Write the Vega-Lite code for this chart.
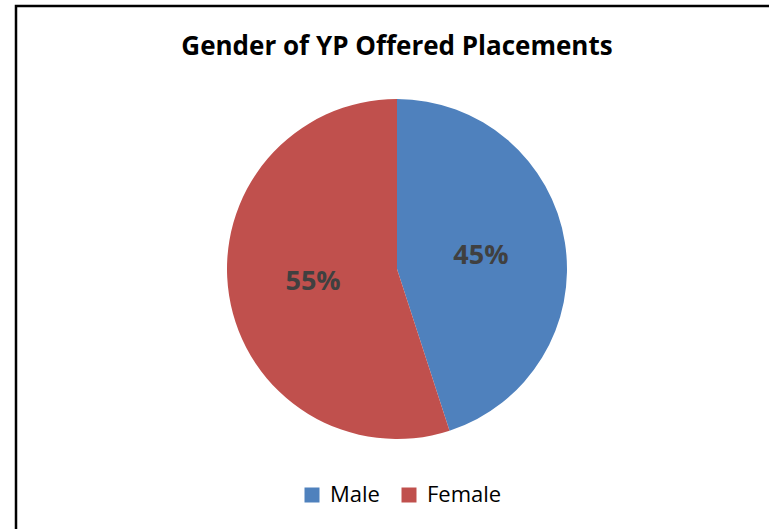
{
  "$schema": "https://vega.github.io/schema/vega-lite/v6.json",
  "width": 762,
  "height": 526,
  "autosize": {"type": "none"},
  "padding": {"left": 16, "top": 6, "right": 0, "bottom": 0},
  "background": "white",
  "view": {"stroke": "black", "strokeWidth": 2.5},
  "title": {
    "text": "Gender of YP Offered Placements",
    "font": "Open Sans",
    "fontSize": 26,
    "fontWeight": "bold",
    "color": "black",
    "anchor": "middle",
    "offset": -54
  },
  "data": {
    "values": [
      {"gender": "Male", "value": 45, "label": "45%", "rank": 1},
      {"gender": "Female", "value": 55, "label": "55%", "rank": 2}
    ]
  },
  "encoding": {
    "theta": {"field": "value", "type": "quantitative", "stack": true},
    "order": {"field": "rank", "type": "quantitative"}
  },
  "layer": [
    {
      "mark": {"type": "arc", "outerRadius": 170},
      "encoding": {
        "color": {
          "field": "gender",
          "type": "nominal",
          "scale": {"domain": ["Male", "Female"], "range": ["#4F81BD", "#C0504D"]},
          "legend": {
            "title": null,
            "orient": "none",
            "direction": "horizontal",
            "legendX": 285,
            "legendY": 478,
            "symbolType": "square",
            "symbolSize": 225,
            "symbolStrokeWidth": 0,
            "labelFont": "Open Sans",
            "labelFontSize": 22,
            "labelColor": "black",
            "labelOffset": 7,
            "columnPadding": 18
          }
        }
      }
    },
    {
      "mark": {"type": "text", "radius": 85, "font": "Open Sans", "fontSize": 27, "fontWeight": "bold", "color": "#404040"},
      "encoding": {
        "text": {"field": "label", "type": "nominal"}
      }
    }
  ]
}
